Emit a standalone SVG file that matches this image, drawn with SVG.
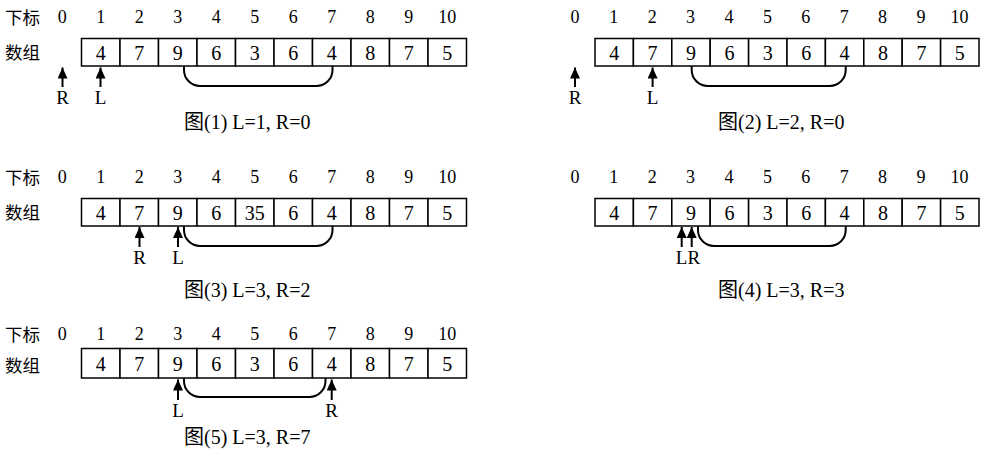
<svg xmlns="http://www.w3.org/2000/svg" width="992" height="451" viewBox="0 0 992 451">
<defs>
<style>
text{font-family:"Liberation Serif","Noto Sans CJK SC",serif;fill:#000}
.idx{font-size:18px;text-anchor:middle}
.val{font-size:20px;text-anchor:middle}
.lab{font-size:17.5px}
.ptr{font-size:19px;text-anchor:middle}
.cap{font-size:20px}
.cell{fill:#fff;stroke:#000;stroke-width:1.5}
.br{fill:none;stroke:#000;stroke-width:2}
.ar{stroke:#000;stroke-width:2;fill:none;marker-end:url(#ah)}
</style>
<marker id="ah" markerUnits="userSpaceOnUse" markerWidth="13" markerHeight="11" refX="11" refY="5" orient="auto">
<path d="M0,0 L11,5 L0,10 Z" fill="#000"/>
</marker>
</defs>

<g id="panel1">
<text class="lab" x="5" y="24">下标</text>
<text class="lab" x="5" y="59">数组</text>
<g class="idx-row">
<text class="idx" x="62.3" y="23">0</text><text class="idx" x="100.8" y="23">1</text><text class="idx" x="139.3" y="23">2</text><text class="idx" x="177.8" y="23">3</text><text class="idx" x="216.3" y="23">4</text><text class="idx" x="254.8" y="23">5</text><text class="idx" x="293.3" y="23">6</text><text class="idx" x="331.8" y="23">7</text><text class="idx" x="370.3" y="23">8</text><text class="idx" x="408.8" y="23">9</text><text class="idx" x="447.3" y="23">10</text>
</g>
<rect class="cell" x="81.5" y="38.5" width="38.5" height="27.5"/><rect class="cell" x="120" y="38.5" width="38.5" height="27.5"/><rect class="cell" x="158.5" y="38.5" width="38.5" height="27.5"/><rect class="cell" x="197" y="38.5" width="38.5" height="27.5"/><rect class="cell" x="235.5" y="38.5" width="38.5" height="27.5"/><rect class="cell" x="274" y="38.5" width="38.5" height="27.5"/><rect class="cell" x="312.5" y="38.5" width="38.5" height="27.5"/><rect class="cell" x="351" y="38.5" width="38.5" height="27.5"/><rect class="cell" x="389.5" y="38.5" width="38.5" height="27.5"/><rect class="cell" x="428" y="38.5" width="38.5" height="27.5"/>
<text class="val" x="100.8" y="60">4</text><text class="val" x="139.3" y="60">7</text><text class="val" x="177.8" y="60">9</text><text class="val" x="216.3" y="60">6</text><text class="val" x="254.8" y="60">3</text><text class="val" x="293.3" y="60">6</text><text class="val" x="331.8" y="60">4</text><text class="val" x="370.3" y="60">8</text><text class="val" x="408.8" y="60">7</text><text class="val" x="447.3" y="60">5</text>
<text class="ptr" x="62.5" y="104">R</text>
<text class="ptr" x="100.5" y="104">L</text>
<text class="cap" x="184" y="129">图(1) L=1, R=0</text>
</g>

<g id="panel2">
<text class="idx" x="575" y="23">0</text><text class="idx" x="613.8" y="23">1</text><text class="idx" x="652.2" y="23">2</text><text class="idx" x="690.6" y="23">3</text><text class="idx" x="729" y="23">4</text><text class="idx" x="767.4" y="23">5</text><text class="idx" x="805.8" y="23">6</text><text class="idx" x="844.2" y="23">7</text><text class="idx" x="882.6" y="23">8</text><text class="idx" x="921" y="23">9</text><text class="idx" x="959.4" y="23">10</text>
<rect class="cell" x="595" y="38.5" width="38.4" height="27.5"/><rect class="cell" x="633.4" y="38.5" width="38.4" height="27.5"/><rect class="cell" x="671.8" y="38.5" width="38.4" height="27.5"/><rect class="cell" x="710.2" y="38.5" width="38.4" height="27.5"/><rect class="cell" x="748.6" y="38.5" width="38.4" height="27.5"/><rect class="cell" x="787" y="38.5" width="38.4" height="27.5"/><rect class="cell" x="825.4" y="38.5" width="38.4" height="27.5"/><rect class="cell" x="863.8" y="38.5" width="38.4" height="27.5"/><rect class="cell" x="902.2" y="38.5" width="38.4" height="27.5"/><rect class="cell" x="940.6" y="38.5" width="38.4" height="27.5"/>
<text class="val" x="614.2" y="60">4</text><text class="val" x="652.6" y="60">7</text><text class="val" x="691" y="60">9</text><text class="val" x="729.4" y="60">6</text><text class="val" x="767.8" y="60">3</text><text class="val" x="806.2" y="60">6</text><text class="val" x="844.6" y="60">4</text><text class="val" x="883" y="60">8</text><text class="val" x="921.4" y="60">7</text><text class="val" x="959.8" y="60">5</text>
<text class="ptr" x="575" y="104">R</text>
<text class="ptr" x="652.6" y="104">L</text>
<text class="cap" x="718" y="129">图(2) L=2, R=0</text>
</g>

<g id="panel3">
<text class="lab" x="5" y="184">下标</text>
<text class="lab" x="5" y="219">数组</text>
<text class="idx" x="62.3" y="183">0</text><text class="idx" x="100.8" y="183">1</text><text class="idx" x="139.3" y="183">2</text><text class="idx" x="177.8" y="183">3</text><text class="idx" x="216.3" y="183">4</text><text class="idx" x="254.8" y="183">5</text><text class="idx" x="293.3" y="183">6</text><text class="idx" x="331.8" y="183">7</text><text class="idx" x="370.3" y="183">8</text><text class="idx" x="408.8" y="183">9</text><text class="idx" x="447.3" y="183">10</text>
<rect class="cell" x="81.5" y="198.5" width="38.5" height="27.5"/><rect class="cell" x="120" y="198.5" width="38.5" height="27.5"/><rect class="cell" x="158.5" y="198.5" width="38.5" height="27.5"/><rect class="cell" x="197" y="198.5" width="38.5" height="27.5"/><rect class="cell" x="235.5" y="198.5" width="38.5" height="27.5"/><rect class="cell" x="274" y="198.5" width="38.5" height="27.5"/><rect class="cell" x="312.5" y="198.5" width="38.5" height="27.5"/><rect class="cell" x="351" y="198.5" width="38.5" height="27.5"/><rect class="cell" x="389.5" y="198.5" width="38.5" height="27.5"/><rect class="cell" x="428" y="198.5" width="38.5" height="27.5"/>
<text class="val" x="100.8" y="220">4</text><text class="val" x="139.3" y="220">7</text><text class="val" x="177.8" y="220">9</text><text class="val" x="216.3" y="220">6</text><text class="val" x="254.8" y="220">35</text><text class="val" x="293.3" y="220">6</text><text class="val" x="331.8" y="220">4</text><text class="val" x="370.3" y="220">8</text><text class="val" x="408.8" y="220">7</text><text class="val" x="447.3" y="220">5</text>
<text class="ptr" x="139.5" y="264">R</text>
<text class="ptr" x="178" y="264">L</text>
<text class="cap" x="184" y="297">图(3) L=3, R=2</text>
</g>

<g id="panel4">
<text class="idx" x="575" y="183">0</text><text class="idx" x="613.8" y="183">1</text><text class="idx" x="652.2" y="183">2</text><text class="idx" x="690.6" y="183">3</text><text class="idx" x="729" y="183">4</text><text class="idx" x="767.4" y="183">5</text><text class="idx" x="805.8" y="183">6</text><text class="idx" x="844.2" y="183">7</text><text class="idx" x="882.6" y="183">8</text><text class="idx" x="921" y="183">9</text><text class="idx" x="959.4" y="183">10</text>
<rect class="cell" x="595" y="198.5" width="38.4" height="27.5"/><rect class="cell" x="633.4" y="198.5" width="38.4" height="27.5"/><rect class="cell" x="671.8" y="198.5" width="38.4" height="27.5"/><rect class="cell" x="710.2" y="198.5" width="38.4" height="27.5"/><rect class="cell" x="748.6" y="198.5" width="38.4" height="27.5"/><rect class="cell" x="787" y="198.5" width="38.4" height="27.5"/><rect class="cell" x="825.4" y="198.5" width="38.4" height="27.5"/><rect class="cell" x="863.8" y="198.5" width="38.4" height="27.5"/><rect class="cell" x="902.2" y="198.5" width="38.4" height="27.5"/><rect class="cell" x="940.6" y="198.5" width="38.4" height="27.5"/>
<text class="val" x="614.2" y="220">4</text><text class="val" x="652.6" y="220">7</text><text class="val" x="691" y="220">9</text><text class="val" x="729.4" y="220">6</text><text class="val" x="767.8" y="220">3</text><text class="val" x="806.2" y="220">6</text><text class="val" x="844.6" y="220">4</text><text class="val" x="883" y="220">8</text><text class="val" x="921.4" y="220">7</text><text class="val" x="959.8" y="220">5</text>
<text class="ptr" x="688" y="264">LR</text>
<text class="cap" x="718" y="297">图(4) L=3, R=3</text>
</g>

<g id="panel5">
<text class="lab" x="5" y="341">下标</text>
<text class="lab" x="5" y="372">数组</text>
<text class="idx" x="62.3" y="340">0</text><text class="idx" x="100.8" y="340">1</text><text class="idx" x="139.3" y="340">2</text><text class="idx" x="177.8" y="340">3</text><text class="idx" x="216.3" y="340">4</text><text class="idx" x="254.8" y="340">5</text><text class="idx" x="293.3" y="340">6</text><text class="idx" x="331.8" y="340">7</text><text class="idx" x="370.3" y="340">8</text><text class="idx" x="408.8" y="340">9</text><text class="idx" x="447.3" y="340">10</text>
<rect class="cell" x="81.5" y="348.5" width="38.5" height="29.5"/><rect class="cell" x="120" y="348.5" width="38.5" height="29.5"/><rect class="cell" x="158.5" y="348.5" width="38.5" height="29.5"/><rect class="cell" x="197" y="348.5" width="38.5" height="29.5"/><rect class="cell" x="235.5" y="348.5" width="38.5" height="29.5"/><rect class="cell" x="274" y="348.5" width="38.5" height="29.5"/><rect class="cell" x="312.5" y="348.5" width="38.5" height="29.5"/><rect class="cell" x="351" y="348.5" width="38.5" height="29.5"/><rect class="cell" x="389.5" y="348.5" width="38.5" height="29.5"/><rect class="cell" x="428" y="348.5" width="38.5" height="29.5"/>
<text class="val" x="100.8" y="371">4</text><text class="val" x="139.3" y="371">7</text><text class="val" x="177.8" y="371">9</text><text class="val" x="216.3" y="371">6</text><text class="val" x="254.8" y="371">3</text><text class="val" x="293.3" y="371">6</text><text class="val" x="331.8" y="371">4</text><text class="val" x="370.3" y="371">8</text><text class="val" x="408.8" y="371">7</text><text class="val" x="447.3" y="371">5</text>
<text class="ptr" x="178" y="417">L</text>
<text class="ptr" x="331.7" y="417">R</text>
<text class="cap" x="184" y="444">图(5) L=3, R=7</text>
</g>

<g id="connectors">
<path class="br" d="M184,66 V70 A16,16 0 0 0 200,86 H316.5 A16,16 0 0 0 332.5,70 V66"/>
<path class="br" d="M691.7,66 V70 A16,16 0 0 0 707.7,86 H829.7 A16,16 0 0 0 845.7,70 V66"/>
<path class="br" d="M184,226 V230 A16,16 0 0 0 200,246 H316.5 A16,16 0 0 0 332.5,230 V226"/>
<path class="br" d="M698,226 V230 A16,16 0 0 0 714,246 H829.7 A16,16 0 0 0 845.7,230 V226"/>
<path class="br" d="M184,378 V381 A16,16 0 0 0 200,397 H309.5 A16,16 0 0 0 325.5,381 V378"/>
<path class="ar" d="M62.5,87 V67.5"/>
<path class="ar" d="M100.5,87 V67.5"/>
<path class="ar" d="M575,87 V67.5"/>
<path class="ar" d="M652.6,87 V67.5"/>
<path class="ar" d="M139.5,247 V227"/>
<path class="ar" d="M178,247 V227"/>
<path class="ar" d="M681.7,247 V227"/>
<path class="ar" d="M691.7,247 V227"/>
<path class="ar" d="M178,400 V379.5"/>
<path class="ar" d="M331.7,400 V379.5"/>
</g>
</svg>
